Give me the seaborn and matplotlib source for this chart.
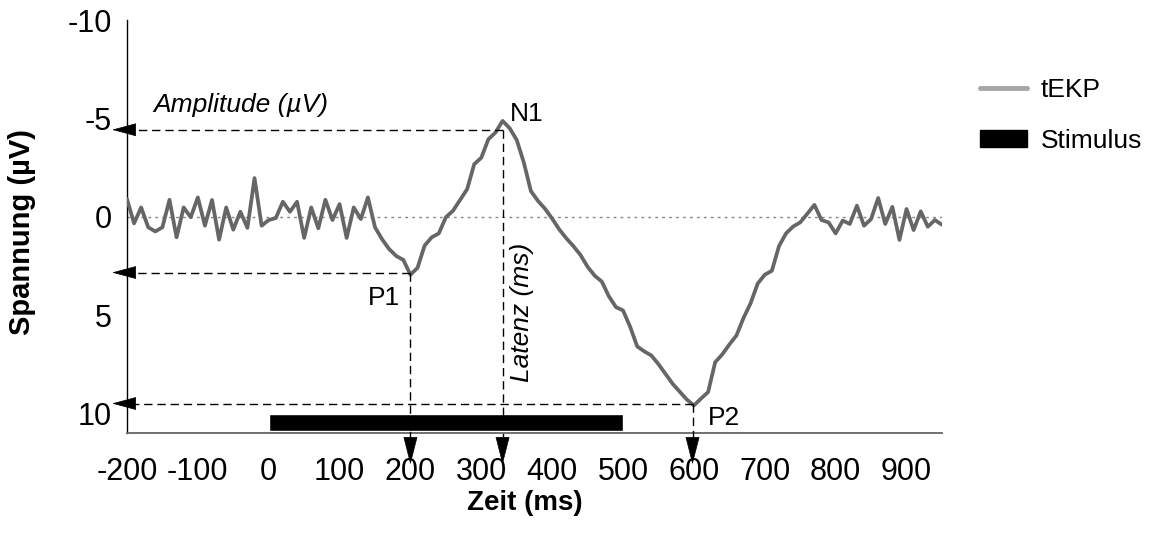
import matplotlib
matplotlib.use("Agg")
import matplotlib.pyplot as plt
import seaborn as sns
import pandas as pd
from matplotlib.lines import Line2D
from matplotlib.patches import Patch

# ---- data ----
time_ms = [-200, -190, -180, -170, -160, -150, -140, -130, -120, -110, -100, -90, -80, -70,
           -60, -50, -40, -30, -20, -10, 0, 10, 20, 30, 40, 50, 60, 70, 80, 90, 100, 110,
           120, 130, 140, 150, 160, 170, 180, 190, 200, 210, 220, 230, 240, 250, 260, 270,
           280, 290, 300, 310, 320, 330, 340, 350, 360, 370, 380, 390, 400, 410, 420, 430,
           440, 450, 460, 470, 480, 490, 500, 510, 520, 530, 540, 550, 560, 570, 580, 590,
           600, 610, 620, 630, 640, 650, 660, 670, 680, 690, 700, 710, 720, 730, 740, 750,
           760, 770, 780, 790, 800, 810, 820, 830, 840, 850, 860, 870, 880, 890, 900, 910,
           920, 930, 940, 950]
voltage_uv = [-0.9, 0.34, -0.47, 0.54, 0.75, 0.54, -0.86, 1.05, -0.47, 0.03, -0.98, 0.46,
              -0.85, 1.17, -0.47, 0.66, -0.25, 0.57, -1.96, 0.46, 0.17, 0.07, -0.76, -0.25,
              -0.76, 1.08, -0.47, 0.59, -0.86, 0.17, -0.64, 1.08, -0.47, 0.12, -0.98, 0.54,
              1.15, 1.65, 2.0, 2.2, 2.95, 2.6, 1.47, 1.05, 0.85, 0.03, -0.3, -0.85,
              -1.4, -2.67, -3.0, -3.94, -4.28, -4.87, -4.5, -3.9, -2.75, -1.3, -0.8, -0.4,
              0.1, 0.65, 1.1, 1.5, 1.95, 2.55, 3.0, 3.3, 4.05, 4.6, 4.77, 5.6,
              6.6, 6.85, 7.06, 7.5, 8.0, 8.5, 8.9, 9.3, 9.6, 9.25, 8.92, 7.4,
              7.0, 6.5, 6.04, 5.15, 4.4, 3.4, 2.95, 2.75, 1.5, 0.85, 0.5, 0.29,
              -0.15, -0.6, 0.17, 0.29, 0.85, 0.2, 0.37, -0.56, 0.46, 0.12, -0.95, 0.37,
              -0.5, 1.18, -0.39, 0.68, -0.27, 0.51, 0.17, 0.41]

stim_start, stim_end = 0, 500
stim_level = 10.45

# peaks: name, latency (ms), amplitude guide level (uV)
peak_names = ["P1", "N1", "P2"]
peak_latency = [200, 330, 598]
peak_amp = [2.84, -4.42, 9.5]

x_ticks = [-200, -100, 0, 100, 200, 300, 400, 500, 600, 700, 800, 900]
y_ticks = [-10, -5, 0, 5, 10]

df = pd.DataFrame({"Zeit": time_ms, "Spannung": voltage_uv})

sns.set_style("white")
plt.rcParams["font.family"] = ["Liberation Sans", "DejaVu Sans"]
plt.rcParams["axes.unicode_minus"] = False
plt.rcParams["text.color"] = "black"
plt.rcParams["xtick.color"] = "black"
plt.rcParams["ytick.color"] = "black"
plt.rcParams["axes.labelcolor"] = "black"

fig = plt.figure(figsize=(11.5, 5.47), dpi=100)
ax = fig.add_axes([0.1104, 0.2084, 0.7087, 0.7550])

ax.axhline(0, color="#888888", lw=1.0, ls=(0, (2, 3)), zorder=1)

sns.lineplot(data=df, x="Zeit", y="Spannung", ax=ax, color="#666666", lw=2.7,
             zorder=3, sort=False)

ax.barh(stim_level, stim_end - stim_start, left=stim_start, height=0.85,
        color="black", zorder=2)

ax.set_xlim(-200, 950)
ax.set_ylim(11, -10)
ax.set_xticks(x_ticks)
ax.set_yticks(y_ticks)
ax.tick_params(axis="both", labelsize=22, direction="out", length=10, width=1,
               color="black", labelcolor="black")
ax.tick_params(axis="x", pad=7)
ax.tick_params(axis="y", pad=1)
for s in ["top", "right"]:
    ax.spines[s].set_visible(False)
ax.spines["left"].set_color("black")
ax.spines["left"].set_linewidth(1.0)
ax.spines["bottom"].set_color("#666666")
ax.spines["bottom"].set_linewidth(1.3)
ax.set_xlabel("")
ax.set_ylabel("")

# dashed guide lines + arrow heads
dash = (0, (6, 3.5))
left_tip = -221
left_base = -192
down_tip = 12.6
down_base = 11.2
for lat, amp in zip(peak_latency, peak_amp):
    ax.plot([lat, left_base], [amp, amp], color="black", lw=1.0, ls=dash,
            clip_on=False, zorder=4)
    ax.plot([lat, lat], [amp, down_base], color="black", lw=1.0, ls=dash,
            clip_on=False, zorder=4)
    ax.annotate("", xy=(left_tip, amp), xytext=(16, 0), textcoords="offset points",
                arrowprops=dict(arrowstyle="-|>,head_length=1.6,head_width=0.43",
                                mutation_scale=10, fc="black", ec="black", lw=0.5,
                                shrinkA=0, shrinkB=0),
                annotation_clip=False, zorder=5)
    ax.annotate("", xy=(lat, down_tip), xytext=(0, 19), textcoords="offset points",
                arrowprops=dict(arrowstyle="-|>,head_length=1.85,head_width=0.47",
                                mutation_scale=10, fc="black", ec="black", lw=0.5,
                                shrinkA=0, shrinkB=0),
                annotation_clip=False, zorder=5)

# annotation texts
ax.text(-163, -5.7, "Amplitude (µV)", fontsize=19, style="italic", ha="left",
        va="center")
ax.text(340, -5.23, "N1", fontsize=19, ha="left", va="center")
ax.text(163, 4.16, "P1", fontsize=19, ha="center", va="center")
ax.text(642, 10.25, "P2", fontsize=19, ha="center", va="center")
ax.text(357, 4.87, "Latenz (ms)", fontsize=19, style="italic", rotation=90,
        ha="center", va="center")

# axis labels
fig.text(22 / 1150, 1 - 232 / 547, "Spannung (µV)", fontsize=21, fontweight="bold",
         rotation=90, ha="center", va="center")
fig.text(525 / 1150, 1 - 503 / 547, "Zeit (ms)", fontsize=20, fontweight="bold",
         ha="center", va="center")

# legend
handles = [Line2D([0], [0], color="#a6a6a6", lw=3.5),
           Patch(facecolor="black", edgecolor="black")]
fig.legend(handles, ["tEKP", "Stimulus"], loc="upper left",
           bbox_to_anchor=(0.852, 0.857), frameon=False, fontsize=19,
           handlelength=1.8, handleheight=0.6, handletextpad=0.5,
           labelspacing=1.0, borderpad=0, borderaxespad=0)

fig.savefig("out.png", dpi=100)
